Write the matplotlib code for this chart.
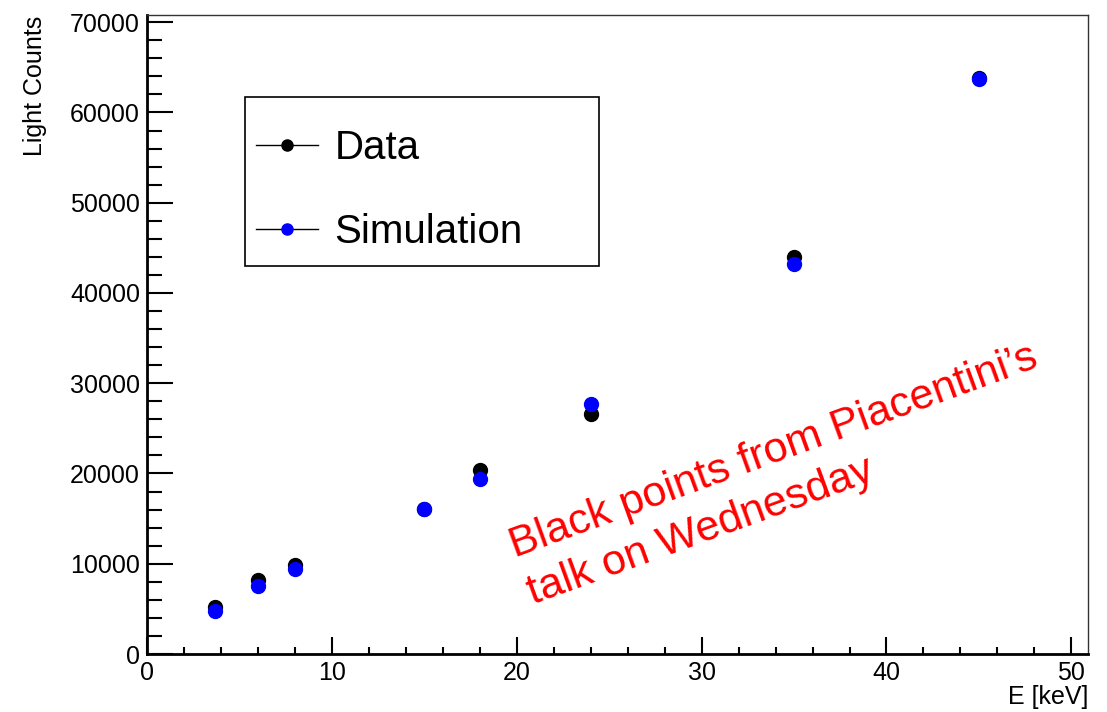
import matplotlib
matplotlib.use("Agg")
import matplotlib.pyplot as plt
from matplotlib.lines import Line2D
from matplotlib.patches import Rectangle
from matplotlib.ticker import MultipleLocator

plt.rcParams['font.family'] = ['Liberation Sans', 'DejaVu Sans']

# Energie des sources [keV]
energie = [3.7, 6, 8, 15, 18, 24, 35, 45]
# Mesures (points noirs)
data_counts = [5200, 8200, 9850, 16100, 20400, 26600, 44000, 63800]
# Simulation (points bleus)
sim_counts = [4800, 7500, 9400, 16100, 19400, 27700, 43200, 63700]

W, H = 1107, 712
fig = plt.figure(figsize=(W / 100, H / 100), dpi=100)
ax = fig.add_axes([147 / W, 58 / H, (1088 - 147) / W, (654 - 15) / H])

ax.plot(energie, data_counts, linestyle='none', marker='o', ms=10,
        color='black', zorder=3)
ax.plot(energie, sim_counts, linestyle='none', marker='o', ms=10,
        color='blue', zorder=4)

ax.set_xlim(0, 50.9)
ax.set_ylim(0, 70800)

ax.xaxis.set_major_locator(MultipleLocator(10))
ax.xaxis.set_minor_locator(MultipleLocator(2))
ax.yaxis.set_major_locator(MultipleLocator(10000))
ax.yaxis.set_minor_locator(MultipleLocator(2000))

ax.tick_params(axis='both', which='both', direction='in', top=False, right=False,
               labelsize=18, width=1.5)
ax.tick_params(axis='x', which='major', length=12, pad=5)
ax.tick_params(axis='x', which='minor', length=5)
ax.tick_params(axis='y', which='major', length=19, pad=5)
ax.tick_params(axis='y', which='minor', length=11)

for cote in ['left', 'bottom']:
    ax.spines[cote].set_linewidth(2)
for cote in ['top', 'right']:
    ax.spines[cote].set_linewidth(1)
    ax.spines[cote].set_color('#333333')

# Titres des axes, style ROOT
fig.text(1088 / W, 1 - 697 / H, "E [keV]", ha='right', va='center', fontsize=18)
fig.text(35 / W, 1 - 16 / H, "Light Counts", ha='center', va='top',
         rotation=90, fontsize=18)

# Cadre de la legende (trace a part pour garder les marges du TLegend)
fig.patches.append(Rectangle((245 / W, 1 - 266 / H), (599 - 245) / W, (266 - 97) / H,
                             transform=fig.transFigure, fill=True, facecolor='white',
                             edgecolor='black', lw=1.2, zorder=5))

poignees = [
    Line2D([], [], color='black', lw=1, marker='o', ms=8, mfc='black', mec='black'),
    Line2D([], [], color='black', lw=1, marker='o', ms=8, mfc='blue', mec='blue'),
]
leg = fig.legend(poignees, ["Data", "Simulation"], loc='upper left',
                 bbox_to_anchor=(256 / W, 1 - 129 / H), borderaxespad=0,
                 borderpad=0, fontsize=29, frameon=False,
                 labelspacing=1.14, handlelength=1.55, handletextpad=0.4)
leg.set_zorder(6)

# Annotation en rouge
ax.text(19.9, 10740, "Black points from Piacentini\u2019s", color='red', fontsize=31,
        rotation=20, rotation_mode='anchor', ha='left', va='baseline')
ax.text(20.86, 5430, "talk on Wednesday", color='red', fontsize=31,
        rotation=20, rotation_mode='anchor', ha='left', va='baseline')

plt.savefig("out.png", dpi=100)
plt.close()
